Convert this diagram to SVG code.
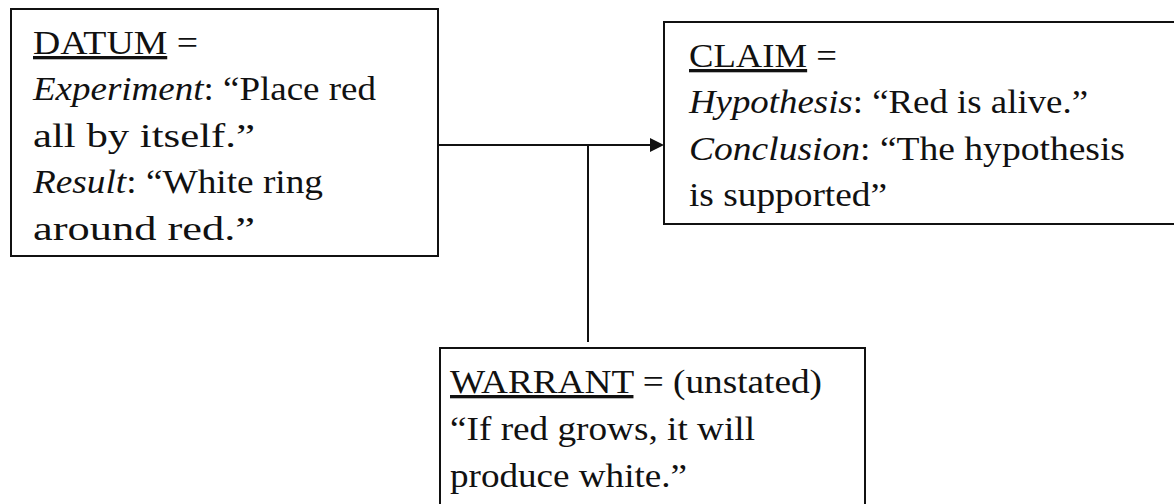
<svg xmlns="http://www.w3.org/2000/svg" width="1174" height="504" viewBox="0 0 1174 504">
<style>
.box{fill:#fff;stroke:#111;stroke-width:2}
.t{font-family:"Liberation Serif","Times New Roman",serif;font-size:33px;fill:#111}
.i{font-style:italic}
.u{text-decoration:underline}
.c{fill:none;stroke:#111;stroke-width:2}
</style>
<rect width="1174" height="504" fill="#fff"/>
<g id="connectors">
<path class="c" d="M438,145 H650"/>
<path d="M650,138 L664,145 L650,152 z" fill="#111"/>
<path class="c" d="M588,145 V342"/>
</g>
<g id="datum">
<rect class="box" x="11" y="9" width="427" height="247"/>
<text class="t" x="33" y="54" textLength="165" lengthAdjust="spacingAndGlyphs"><tspan class="u">DATUM</tspan> =</text>
<text class="t" x="33" y="100" textLength="343" lengthAdjust="spacingAndGlyphs"><tspan class="i">Experiment</tspan>: “Place red</text>
<text class="t" x="33" y="147" textLength="222" lengthAdjust="spacingAndGlyphs">all by itself.”</text>
<text class="t" x="33" y="193" textLength="290" lengthAdjust="spacingAndGlyphs"><tspan class="i">Result</tspan>: “White ring</text>
<text class="t" x="33" y="240" textLength="222" lengthAdjust="spacingAndGlyphs">around red.”</text>
</g>
<g id="claim">
<rect class="box" x="664" y="22" width="520" height="202"/>
<text class="t" x="689" y="67" textLength="148" lengthAdjust="spacingAndGlyphs"><tspan class="u">CLAIM</tspan> =</text>
<text class="t" x="689" y="113" textLength="399" lengthAdjust="spacingAndGlyphs"><tspan class="i">Hypothesis</tspan>: “Red is alive.”</text>
<text class="t" x="689" y="160" textLength="436" lengthAdjust="spacingAndGlyphs"><tspan class="i">Conclusion</tspan>: “The hypothesis</text>
<text class="t" x="689" y="206" textLength="198" lengthAdjust="spacingAndGlyphs">is supported”</text>
</g>
<g id="warrant">
<rect class="box" x="440" y="348" width="425" height="170"/>
<text class="t" x="450" y="393" textLength="372" lengthAdjust="spacingAndGlyphs"><tspan class="u">WARRANT</tspan> = (unstated)</text>
<text class="t" x="450" y="440" textLength="305" lengthAdjust="spacingAndGlyphs">“If red grows, it will</text>
<text class="t" x="450" y="487" textLength="237" lengthAdjust="spacingAndGlyphs">produce white.”</text>
</g>
</svg>
